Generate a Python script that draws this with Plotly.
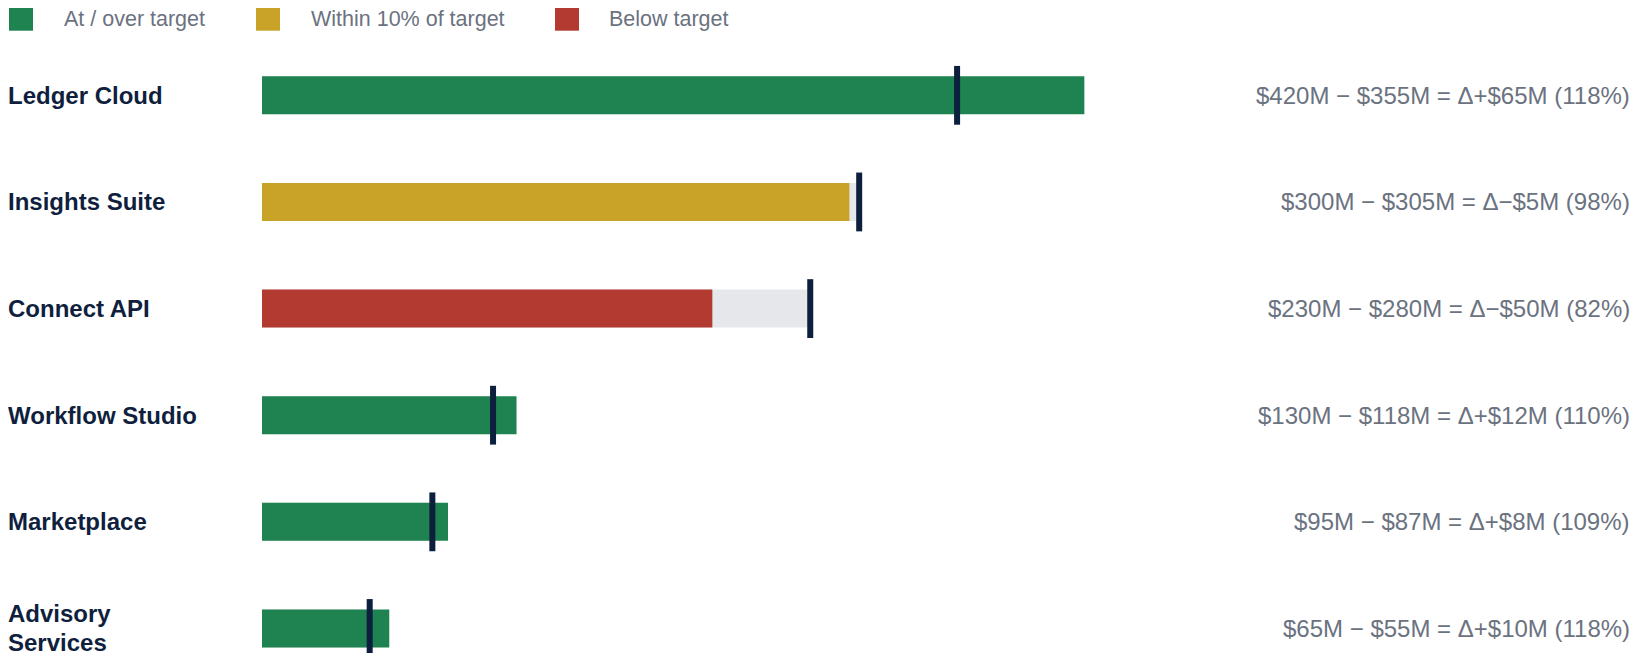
import plotly.graph_objects as go

# ---- data ----
products = ["Ledger Cloud", "Insights Suite", "Connect API", "Workflow Studio",
            "Marketplace", "Advisory Services"]
product_labels = ["Ledger Cloud", "Insights Suite", "Connect API", "Workflow Studio",
                  "Marketplace", "Advisory<br>Services"]
actual = [420, 300, 230, 130, 95, 65]
target = [355, 305, 280, 118, 87, 55]

legend_names = ["At / over target", "Within 10% of target", "Below target"]
status_colors = ["#1f8251", "#c9a228", "#b33a30"]
TRACK = "#e5e7eb"
NAVY = "#0c1f3d"
GREY = "#6b7280"
FONT = "Liberation Sans, Arial, Helvetica, sans-serif"


def status(a, t):
    r = a / t
    if r >= 1:
        return 0
    if r >= 0.9:
        return 1
    return 2


bar_colors = [status_colors[status(a, t)] for a, t in zip(actual, target)]


def fmt_delta(a, t):
    d = a - t
    sign = "+" if d >= 0 else "\u2212"
    pct = round(a / t * 100)
    return f"${a}M \u2212 ${t}M = \u0394{sign}${abs(d)}M ({pct}%)"


# ---- layout geometry (figure pixels) ----
W, H = 1622, 645
ML, MR, MT, MB = 254, 0, 34, 0
PW, PH = W - ML - MR, H - MT - MB
PX_PER_UNIT = 1.958
ROW = 106.63
LINE_PITCH = 29
xmax = PW / PX_PER_UNIT
ytop = -0.5
ybot = ytop + PH / ROW


def px_x(X):
    return (X - ML) / PW


def px_y(Y):
    return (H - MB - Y) / PH


fig = go.Figure()

fig.add_trace(go.Bar(
    y=products, x=target, orientation="h", marker=dict(color=TRACK, line=dict(width=0)),
    width=0.356, showlegend=False, hoverinfo="skip",
))
fig.add_trace(go.Bar(
    y=products, x=actual, orientation="h", marker=dict(color=bar_colors, line=dict(width=0)),
    width=0.356, showlegend=False,
))
# line-ns marker length is 1.4 x size -> ~59 px tall
fig.add_trace(go.Scatter(
    y=products, x=target, mode="markers",
    marker=dict(symbol="line-ns", size=42, color=NAVY, line=dict(width=6, color=NAVY)),
    showlegend=False,
))

annotations = []
for p, lab, a, t in zip(products, product_labels, actual, target):
    lines = lab.split("<br>")
    n = len(lines)
    for i, ln in enumerate(lines):
        annotations.append(dict(
            xref="paper", yref="y", x=px_x(0), y=p, xanchor="left", yanchor="middle",
            yshift=((n - 1) / 2 - i) * LINE_PITCH,
            text=f"<b>{ln}</b>", align="left", showarrow=False,
            borderpad=0, borderwidth=0,
            font=dict(family=FONT, size=24, color="#0f1f3d"),
        ))
    annotations.append(dict(
        xref="paper", yref="y", x=1, y=p, xanchor="right", yanchor="middle",
        text=fmt_delta(a, t), showarrow=False, borderpad=0, borderwidth=0,
        font=dict(family=FONT, size=24, color=GREY),
    ))

# custom legend
legend_sq_x = [1, 248, 547]
legend_txt_x = [55.6, 302.5, 601]
shapes = []
for name, col, sx, tx in zip(legend_names, status_colors, legend_sq_x, legend_txt_x):
    shapes.append(dict(
        type="rect", xref="paper", yref="paper",
        x0=px_x(sx), x1=px_x(sx + 24), y0=px_y(22.7), y1=px_y(-1.3),
        fillcolor=col, line=dict(width=0),
    ))
    annotations.append(dict(
        xref="paper", yref="paper", x=px_x(tx), y=px_y(10.7),
        xanchor="left", yanchor="middle", text=name, showarrow=False,
        borderpad=0, borderwidth=0,
        font=dict(family=FONT, size=21.5, color=GREY),
    ))

fig.update_layout(
    width=W, height=H,
    margin=dict(l=ML, r=MR, t=MT, b=MB, pad=0),
    barmode="overlay",
    plot_bgcolor="white", paper_bgcolor="white",
    xaxis=dict(range=[0, xmax], visible=False, fixedrange=True),
    yaxis=dict(range=[ybot, ytop], categoryorder="array", categoryarray=products,
               showticklabels=False, showgrid=False, zeroline=False, showline=False,
               ticks="", fixedrange=True),
    annotations=annotations,
    shapes=shapes,
    showlegend=False,
    font=dict(family=FONT),
)

fig.write_html("out.html", config={"displayModeBar": False})
